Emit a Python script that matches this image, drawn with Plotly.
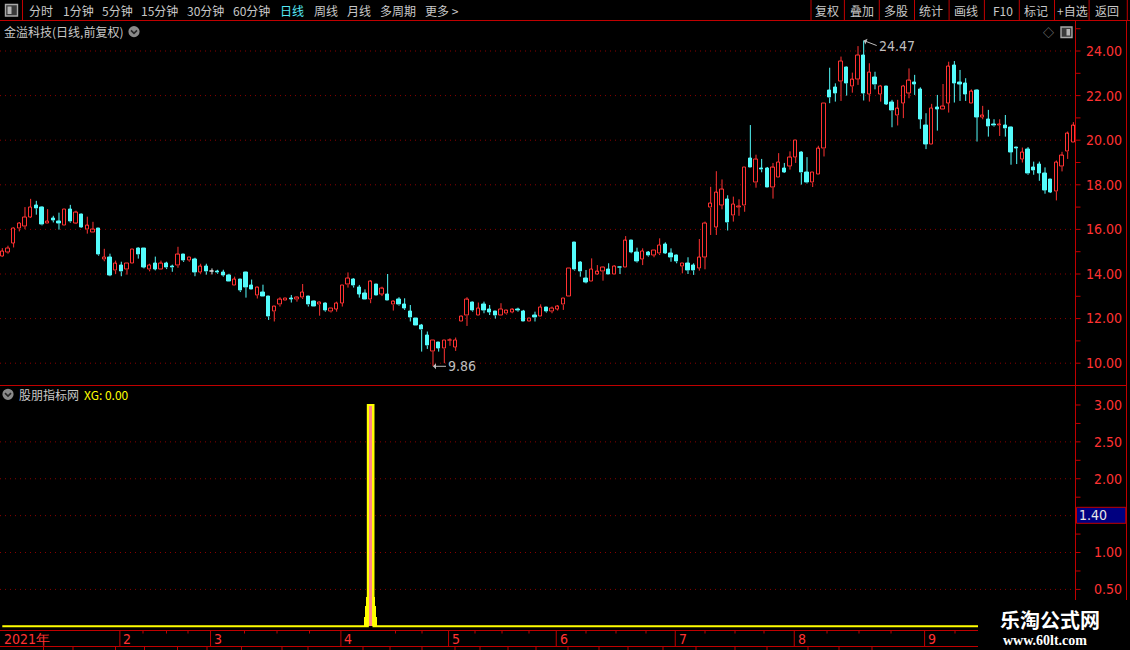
import plotly.graph_objects as go

W, H = 1130, 650

# ---------------- daily candles (金溢科技, 日线 前复权) ----------------
opens = [
    14.79, 14.97, 15.39, 16.03, 16.13, 16.55, 17.06, 16.97, 16.27, 16.48,
    16.36, 16.18, 16.88, 16.28, 16.66, 15.99, 15.87, 16.06, 14.63, 14.76,
    14.15, 14.37, 14.19, 14.48, 15.13, 15.13, 14.19, 14.46, 14.19, 14.46,
    14.33, 14.37, 14.87, 14.60, 14.64, 14.07, 14.33, 14.10, 14.12, 14.06,
    13.93, 13.48, 13.75, 14.06, 13.48, 13.03, 13.16, 12.99, 12.31, 12.61,
    12.81, 12.91, 12.84, 12.94, 13.01, 12.76, 12.61, 12.66, 12.31, 12.43,
    12.69, 13.51, 13.76, 13.39, 13.13, 12.84, 13.55, 13.10, 13.06, 12.61,
    12.84, 12.61, 12.34, 12.01, 11.67, 11.22, 10.52, 10.94, 10.64, 11.00,
    10.72, 11.87, 12.12, 12.72, 12.13, 12.61, 12.43, 12.34, 12.13, 12.21,
    12.27, 12.42, 12.34, 11.87, 12.16, 12.09, 12.51, 12.31, 12.43, 12.61,
    13.01, 15.42, 14.52, 13.81, 13.66, 13.99, 14.10, 14.18, 14.00, 14.31,
    14.28, 15.48, 14.97, 14.66, 14.96, 14.84, 14.90, 15.34, 14.90, 14.82,
    14.33, 14.48, 14.40, 14.25, 14.75, 16.96, 16.10, 17.08, 17.35, 16.61,
    16.98, 17.05, 19.16, 18.09, 18.73, 18.73, 17.87, 18.34, 18.71, 18.83,
    19.24, 19.47, 18.53, 18.09, 18.48, 19.61, 22.21, 22.36, 22.63, 23.25,
    22.40, 22.73, 23.82, 22.06, 22.81, 22.06, 22.43, 21.69, 21.10, 21.66,
    22.10, 22.58, 22.28, 20.64, 19.79, 21.48, 21.39, 21.66, 23.33, 22.58,
    22.55, 21.66, 22.25, 21.03, 20.94, 20.69, 20.66, 20.64, 20.57, 19.67,
    19.15, 19.57, 18.78, 18.90, 18.49, 18.22, 17.70, 18.82, 19.49, 19.90,
]
highs = [
    15.16, 15.27, 16.09, 16.33, 17.00, 17.37, 17.28, 17.03, 16.91, 16.61,
    16.75, 16.88, 17.10, 16.84, 16.70, 16.57, 16.34, 16.06, 15.13, 14.91,
    14.60, 14.55, 14.46, 15.09, 15.19, 15.13, 14.46, 14.78, 14.60, 14.55,
    14.42, 15.22, 14.87, 14.73, 14.73, 14.46, 14.46, 14.25, 14.19, 14.19,
    14.01, 13.88, 13.75, 14.10, 13.75, 13.43, 13.52, 13.01, 12.57, 12.96,
    12.91, 13.06, 12.99, 13.55, 13.01, 12.81, 12.76, 12.72, 12.46, 12.76,
    13.48, 14.07, 13.81, 13.51, 13.31, 13.73, 13.55, 13.43, 14.00, 12.81,
    12.96, 12.91, 12.61, 12.01, 11.76, 11.42, 11.04, 10.94, 11.00, 11.12,
    11.15, 12.13, 12.96, 12.76, 12.72, 12.76, 12.61, 12.34, 12.69, 12.39,
    12.46, 12.49, 12.39, 12.01, 12.31, 12.64, 12.51, 12.54, 12.61, 12.91,
    14.25, 15.42, 14.57, 14.18, 14.70, 14.40, 14.33, 14.48, 14.39, 14.33,
    15.70, 15.48, 15.18, 15.15, 15.03, 15.07, 15.60, 15.42, 15.15, 14.87,
    14.48, 14.75, 14.48, 15.57, 16.35, 17.91, 18.61, 18.24, 17.53, 17.47,
    17.35, 18.76, 20.68, 19.35, 19.16, 18.80, 18.98, 19.42, 18.98, 19.50,
    19.97, 19.50, 19.24, 18.53, 19.75, 21.63, 23.25, 22.55, 23.75, 23.30,
    23.03, 24.22, 24.47, 23.45, 23.07, 22.48, 22.43, 21.81, 21.81, 22.48,
    23.22, 22.93, 22.37, 21.21, 21.63, 22.03, 22.52, 23.52, 23.55, 23.15,
    22.78, 22.28, 22.28, 21.54, 21.36, 20.94, 20.94, 21.13, 20.61, 19.67,
    19.67, 19.69, 19.04, 19.04, 18.78, 18.25, 19.09, 19.48, 20.39, 20.81,
]
lows = [
    14.76, 14.91, 15.19, 15.91, 16.01, 16.51, 16.66, 16.18, 16.27, 16.31,
    15.99, 16.18, 16.30, 16.24, 16.07, 15.81, 15.87, 14.82, 14.57, 13.90,
    14.00, 13.90, 13.97, 14.48, 14.69, 14.25, 14.12, 14.16, 14.19, 14.22,
    14.10, 14.28, 14.54, 14.55, 13.90, 14.01, 13.97, 13.98, 14.01, 13.88,
    13.66, 13.48, 13.19, 12.94, 13.30, 12.90, 12.99, 11.94, 11.87, 12.54,
    12.81, 12.72, 12.76, 12.88, 12.54, 12.54, 12.13, 12.31, 12.27, 12.31,
    12.54, 13.39, 13.39, 12.94, 12.84, 12.69, 13.03, 13.01, 12.79, 12.36,
    12.58, 12.39, 11.87, 11.67, 10.52, 10.64, 9.86, 10.52, 10.00, 10.78,
    10.55, 11.87, 11.67, 12.31, 12.13, 12.24, 12.16, 12.00, 12.13, 12.18,
    12.24, 12.31, 11.87, 11.87, 11.87, 12.09, 12.27, 12.24, 12.36, 12.39,
    13.01, 14.15, 13.88, 13.58, 13.66, 13.96, 13.70, 14.00, 14.00, 14.00,
    14.28, 14.93, 14.51, 14.40, 14.78, 14.75, 14.85, 14.90, 14.55, 14.48,
    14.03, 14.00, 13.96, 14.15, 14.21, 15.75, 15.75, 16.90, 15.95, 16.35,
    16.61, 16.79, 18.79, 17.87, 18.56, 17.90, 17.38, 18.34, 18.53, 18.68,
    18.98, 18.01, 18.06, 17.90, 18.48, 19.27, 21.66, 21.73, 21.76, 22.00,
    22.13, 22.48, 21.78, 21.73, 22.28, 21.73, 21.58, 20.58, 20.66, 20.99,
    21.88, 22.03, 20.51, 19.60, 19.79, 20.43, 21.39, 21.24, 21.69, 21.76,
    21.76, 21.66, 19.94, 20.94, 20.16, 20.61, 20.19, 20.16, 18.90, 18.93,
    19.00, 18.45, 18.45, 18.18, 17.60, 17.63, 17.30, 18.60, 19.16, 19.90,
]
closes = [
    15.01, 15.16, 16.06, 16.28, 16.55, 17.00, 16.93, 16.21, 16.36, 16.40,
    16.27, 16.88, 16.34, 16.75, 16.09, 16.16, 15.99, 14.87, 14.76, 13.94,
    14.46, 14.10, 14.46, 15.09, 14.87, 14.31, 14.40, 14.22, 14.46, 14.28,
    14.28, 14.87, 14.60, 14.73, 14.07, 14.33, 14.10, 14.10, 14.06, 13.93,
    13.66, 13.75, 13.25, 13.39, 13.30, 13.39, 12.99, 12.09, 12.54, 12.84,
    12.91, 12.87, 12.94, 13.18, 12.61, 12.54, 12.73, 12.36, 12.46, 12.69,
    13.48, 13.81, 13.48, 13.10, 12.84, 13.66, 13.03, 13.33, 12.79, 12.76,
    12.61, 12.46, 12.04, 11.67, 11.49, 10.78, 11.04, 10.67, 11.00, 11.04,
    11.04, 12.10, 12.84, 12.36, 12.46, 12.36, 12.28, 12.13, 12.43, 12.36,
    12.39, 12.36, 11.87, 12.01, 12.04, 12.51, 12.31, 12.46, 12.54, 12.91,
    14.25, 14.18, 14.10, 13.63, 14.21, 14.09, 14.30, 14.00, 14.34, 14.28,
    15.48, 14.96, 14.55, 15.03, 14.82, 15.07, 15.30, 14.93, 14.73, 14.55,
    14.48, 14.15, 14.15, 14.75, 16.27, 17.16, 17.64, 17.79, 16.30, 17.13,
    17.02, 18.76, 18.79, 19.13, 18.68, 17.90, 18.76, 19.02, 18.56, 19.23,
    19.97, 18.53, 18.09, 18.53, 19.61, 21.63, 21.91, 22.10, 23.55, 22.55,
    22.70, 23.82, 22.10, 23.04, 22.48, 22.43, 21.61, 21.31, 21.40, 22.43,
    22.66, 22.51, 20.94, 19.82, 21.43, 21.39, 21.51, 23.30, 22.55, 22.52,
    22.06, 22.18, 21.03, 21.10, 20.61, 20.64, 20.69, 20.51, 19.46, 19.64,
    19.45, 18.49, 18.64, 18.52, 17.75, 17.67, 19.00, 19.30, 20.28, 20.64,
]

# ---------------- 股朋指标网 indicator: XG per session ----------------
xg = [
    0, 0, 0, 0, 0, 0, 0, 0, 0, 0,
    0, 0, 0, 0, 0, 0, 0, 0, 0, 0,
    0, 0, 0, 0, 0, 0, 0, 0, 0, 0,
    0, 0, 0, 0, 0, 0, 0, 0, 0, 0,
    0, 0, 0, 0, 0, 0, 0, 0, 0, 0,
    0, 0, 0, 0, 0, 0, 0, 0, 0, 0,
    0, 0, 0, 0, 0, 3, 0, 0, 0, 0,
    0, 0, 0, 0, 0, 0, 0, 0, 0, 0,
    0, 0, 0, 0, 0, 0, 0, 0, 0, 0,
    0, 0, 0, 0, 0, 0, 0, 0, 0, 0,
    0, 0, 0, 0, 0, 0, 0, 0, 0, 0,
    0, 0, 0, 0, 0, 0, 0, 0, 0, 0,
    0, 0, 0, 0, 0, 0, 0, 0, 0, 0,
    0, 0, 0, 0, 0, 0, 0, 0, 0, 0,
    0, 0, 0, 0, 0, 0, 0, 0, 0, 0,
    0, 0, 0, 0, 0, 0, 0, 0, 0, 0,
    0, 0, 0, 0, 0, 0, 0, 0, 0, 0,
    0, 0, 0, 0, 0, 0, 0, 0, 0, 0,
    0, 0, 0, 0, 0, 0, 0, 0, 0, 0,
]
# stepped foot of the signal stick
stick_foot = [0.13, 0.27, 0.40]

# ---------------- axes ----------------
price_ticks = [10, 12, 14, 16, 18, 20, 22, 24]
ind_ticks = [0.5, 1.0, 2.0, 2.5, 3.0]
ind_grid = [0.5, 1.0, 1.5, 2.0, 2.5]
cursor_value = 1.40

month_start = [0, 21, 37, 60, 79, 98, 119, 140, 163]
month_text = ["2021年", "2", "3", "4", "5", "6", "7", "8", "9"]

# ---------------- styling ----------------
RED = "#FF3232"
CYAN = "#54FCFC"
WHITE = "#E6E6E6"
YELLOW = "#FFFF00"
PINK = "#FF8484"
GRID = "#8C0000"
AXIS = "#C00000"
TXT = "#C8C8C8"
CJK = "Noto Sans CJK SC"
NUM = "Liberation Sans Narrow, DejaVu Sans Condensed, Liberation Sans, sans-serif"


def fx(p):
    return p / W


def fy(p):
    return 1 - p / H


n = len(closes)
idx = list(range(n))
up = [i for i in idx if closes[i] > opens[i]]
dn = [i for i in idx if closes[i] < opens[i]]
fl = [i for i in idx if closes[i] == opens[i]]


def wick_path(ids):
    xs, ys = [], []
    for i in ids:
        top = max(opens[i], closes[i])
        bot = min(opens[i], closes[i])
        if highs[i] > top:
            xs += [i, i, None]
            ys += [highs[i], top, None]
        if lows[i] < bot:
            xs += [i, i, None]
            ys += [bot, lows[i], None]
    return xs, ys


fig = go.Figure()

for ids, fill, edge in [(up, "black", RED), (dn, CYAN, CYAN), (fl, WHITE, WHITE)]:
    wx, wy = wick_path(ids)
    fig.add_trace(go.Scatter(x=wx, y=wy, mode="lines", line=dict(color=edge, width=1),
                             xaxis="x", yaxis="y", hoverinfo="skip"))
    fig.add_trace(go.Bar(
        x=ids,
        y=[max(abs(closes[i] - opens[i]), 0.02) for i in ids],
        base=[min(opens[i], closes[i]) for i in ids],
        width=0.6,
        marker=dict(color=fill, line=dict(color=edge, width=1)),
        xaxis="x", yaxis="y", hoverinfo="skip"))

# indicator panel
sig = max(idx, key=lambda i: xg[i])
for lvl, wd in zip(stick_foot, [2.3, 1.95, 1.6]):
    fig.add_trace(go.Bar(x=[sig], y=[lvl], base=0, width=wd, marker=dict(color=YELLOW, line=dict(width=0)),
                         xaxis="x", yaxis="y2", hoverinfo="skip"))
fig.add_trace(go.Bar(x=idx, y=xg, width=1.0, marker=dict(color=YELLOW, line=dict(width=0)),
                     xaxis="x", yaxis="y2", hoverinfo="skip"))
fig.add_trace(go.Bar(x=idx, y=xg, width=0.42, marker=dict(color=PINK, line=dict(width=0)),
                     xaxis="x", yaxis="y2", hoverinfo="skip"))
fig.add_trace(go.Scatter(x=idx, y=xg, mode="lines", line=dict(color=YELLOW, width=2, shape="hvh"),
                         xaxis="x", yaxis="y2", hoverinfo="skip"))

# ---------------- shapes ----------------
shapes = []


def seg(x0, y0, x1, y1, color=AXIS, width=1, xref="paper", yref="paper", dash=None, layer="above"):
    ln = dict(color=color, width=width)
    if dash:
        ln["dash"] = dash
    shapes.append(dict(type="line", xref=xref, yref=yref, x0=x0, y0=y0, x1=x1, y1=y1,
                       line=ln, layer=layer))


# dotted grids
for p in price_ticks:
    seg(0, p, fx(1075), p, color=GRID, yref="y", dash="1px,4px", layer="below")
for v in ind_grid:
    seg(0, v, fx(1075), v, color=GRID, yref="y2", dash="1px,4px", layer="below")

# toolbar frame
seg(0, fy(20.5), 1, fy(20.5))
for xd in [22.5, 811, 844.4, 879.3, 914.5, 949.1, 984.4, 1019.3, 1054.5, 1089.1, 1127.3]:
    seg(fx(xd), fy(0), fx(xd), fy(20.5))

# right scale frame and panel separator
seg(fx(1075.5), fy(20.5), fx(1075.5), fy(600))
seg(fx(1126.5), fy(20.5), fx(1126.5), fy(600))
seg(0, fy(385.5), fx(1126.5), fy(385.5))

# scale ticks
for k in range(10, 26):
    seg(fx(1075.5), k, fx(1080.5), k, yref="y")
for k in range(1, 13):
    seg(fx(1075.5), k * 0.25, fx(1080.5), k * 0.25, yref="y2")

# date strip
seg(0, fy(630.5), fx(978), fy(630.5))
seg(0, fy(646.5), fx(978), fy(646.5))
for m in month_start[1:]:
    seg(m - 0.25, fy(630.5), m - 0.25, fy(646.5), xref="x")
for xt in [143, 166.5, 188, 244.5, 277, 309.5, 395.5, 422, 475, 502, 529, 586, 616, 646,
           705, 735, 764, 827, 859, 891, 955]:
    seg(fx(xt), fy(630.5), fx(xt), fy(633.5))
for xt in [43.5, 73, 115.5, 144.5, 177.5, 207, 241.5, 282, 308, 363, 390, 422, 455, 480, 508,
           536, 568, 599, 628, 663, 696, 735, 767, 808, 839, 872]:
    seg(fx(xt), fy(646.5), fx(xt), fy(650))

# cursor value box on the indicator scale
shapes.append(dict(type="rect", xref="paper", yref="paper", x0=fx(1076.5), x1=fx(1125.8),
                   y0=fy(523.3), y1=fy(507.3), fillcolor="#000080",
                   line=dict(color=AXIS, width=1), layer="above"))

# toggle circles
for cx, cy in [(134, 31.6), (8, 394.3)]:
    r = 5.6
    shapes.append(dict(type="circle", xref="paper", yref="paper", x0=fx(cx - r), x1=fx(cx + r),
                       y0=fy(cy + r), y1=fy(cy - r), fillcolor="#8A8A8A", line=dict(width=0)))
    shapes.append(dict(type="path", xref="paper", yref="paper",
                       path=f"M {fx(cx - 3)} {fy(cy - 1.2)} L {fx(cx)} {fy(cy + 1.8)} L {fx(cx + 3)} {fy(cy - 1.2)}",
                       line=dict(color="#262626", width=1.6)))

# small window icons
for x0, y0, x1, y1, left_lit in [(5.5, 4.5, 17.5, 16, True), (1061, 27, 1072, 37.5, False)]:
    shapes.append(dict(type="rect", xref="paper", yref="paper", x0=fx(x0), x1=fx(x1),
                       y0=fy(y1), y1=fy(y0), fillcolor="#3A3A3A", line=dict(color="#A8A8A8", width=1.4)))
    mid = (x0 + x1) / 2
    lx0, lx1 = (x0 + 2, mid) if left_lit else (mid, x1 - 2)
    shapes.append(dict(type="rect", xref="paper", yref="paper", x0=fx(lx0), x1=fx(lx1),
                       y0=fy(y1 - 2), y1=fy(y0 + 2), fillcolor="#B4B4B4", line=dict(width=0)))

# watermark plate
shapes.append(dict(type="rect", xref="paper", yref="paper", x0=fx(978), x1=1, y0=0, y1=fy(600),
                   fillcolor="black", line=dict(width=0), layer="above"))

# ---------------- annotations ----------------
anns = []


def label(text, x, y, color=TXT, size=12, family=CJK, xanchor="left", xref="paper", xshift=0, bold=False):
    anns.append(dict(text=f"<b>{text}</b>" if bold else text, x=x, y=fy(y), xref=xref, yref="paper",
                     xanchor=xanchor, yanchor="middle", showarrow=False, xshift=xshift,
                     font=dict(color=color, size=size, family=family)))


for t, xl in [("分时", 27), ("1分钟", 60.5), ("5分钟", 100), ("15分钟", 138.5), ("30分钟", 185),
              ("60分钟", 230.5), ("日线", 278), ("周线", 311.5), ("月线", 345), ("多周期", 378),
              ("更多 >", 422.5)]:
    label(t, fx(xl), 10.5, color="#55E8F6" if t == "日线" else TXT)
for t, xc in [("复权", 827.3), ("叠加", 861.6), ("多股", 896), ("统计", 931.3), ("画线", 966),
              ("F10", 1002.7), ("标记", 1036), ("+自选", 1072.4), ("返回", 1107.3)]:
    label(t, fx(xc), 10.5, xanchor="center")

label("金溢科技(日线,前复权)", fx(2), 31.5)
label("◇", fx(1048), 32, color="#9A9A9A", size=11, xanchor="center")
label("股朋指标网", fx(17), 394.3)
label(f"XG: {xg[-1]:.2f}", fx(81.5), 394.3, color=YELLOW)

for m, t in zip(month_start, month_text):
    label(t, m - 0.25, 638.5, color=RED, size=14, family=NUM, xref="x", xshift=1.5)

label(f"{cursor_value:.2f}", fx(1077), 515.3, color="#E8E8E8", size=14, family=NUM)

# extreme price markers
hi_i = max(idx, key=lambda i: highs[i])
lo_i = min(idx, key=lambda i: lows[i])
for i, v, ay in [(hi_i, highs[hi_i], 5), (lo_i, lows[lo_i], 0)]:
    anns.append(dict(text=f"{v:.2f}", x=i, y=v, xref="x", yref="y", showarrow=True,
                     ax=13, ay=ay, xanchor="left", yanchor="middle", arrowhead=1, arrowsize=1,
                     arrowwidth=1, arrowcolor="#BFBFBF", standoff=0,
                     font=dict(color="#BFBFBF", size=14, family=NUM)))

# watermark text
label("乐淘公式网", fx(1050), 619.5, color="white", size=20, xanchor="center", bold=True)
label("www.60lt.com", fx(1045), 640.5, color="white", size=14,
      family="Liberation Serif, DejaVu Serif, serif", xanchor="center", bold=True)

fig.update_layout(
    width=W, height=H,
    margin=dict(l=0, r=0, t=0, b=0),
    paper_bgcolor="black", plot_bgcolor="rgba(0,0,0,0)",
    showlegend=False, barmode="overlay", bargap=0, hovermode=False,
    xaxis=dict(domain=[0, fx(1075)], range=[-0.4059, 189.29], anchor="y2",
               showticklabels=False, showgrid=False, zeroline=False, showline=False,
               ticks="", fixedrange=True),
    yaxis=dict(domain=[fy(385), fy(20.5)], range=[9.022, 25.368], anchor="free",
               position=fx(1122), side="left", showgrid=False, zeroline=False, showline=False,
               ticks="", tickvals=price_ticks, ticktext=[f"{v:.2f}" for v in price_ticks],
               tickfont=dict(color=RED, size=14, family=NUM), fixedrange=True),
    yaxis2=dict(domain=[fy(630), fy(386)], range=[-0.0502, 3.2574], anchor="free",
                position=fx(1122), side="left", showgrid=False, zeroline=False, showline=False,
                ticks="", tickvals=ind_ticks, ticktext=[f"{v:.2f}" for v in ind_ticks],
                tickfont=dict(color=RED, size=14, family=NUM), fixedrange=True),
    shapes=shapes,
    annotations=anns,
)

fig.write_html("out.html", config={"displayModeBar": False})
